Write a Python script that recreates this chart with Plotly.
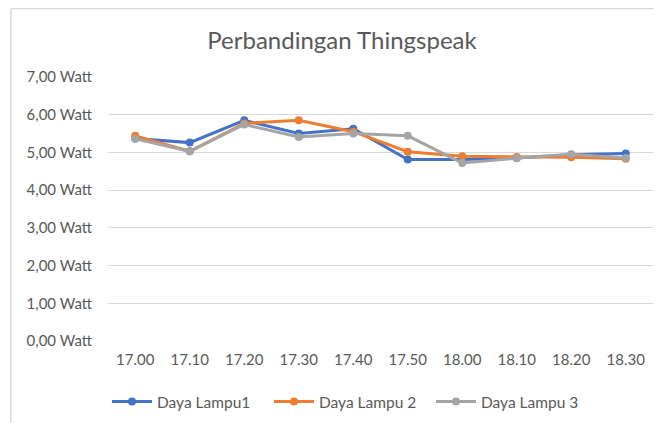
import plotly.graph_objects as go

categories = ["17.00", "17.10", "17.20", "17.30", "17.40", "17.50", "18.00", "18.10", "18.20", "18.30"]
lampu1 = [5.37, 5.26, 5.85, 5.50, 5.63, 4.81, 4.81, 4.85, 4.94, 4.97]
lampu2 = [5.44, 5.03, 5.77, 5.85, 5.55, 5.02, 4.90, 4.88, 4.87, 4.83]
lampu3 = [5.36, 5.03, 5.74, 5.41, 5.50, 5.44, 4.72, 4.85, 4.95, 4.85]
series_names = ["Daya Lampu1", "Daya Lampu 2", "Daya Lampu 3"]
colors = ["#4472C4", "#ED7D31", "#A5A5A5"]
ytick_vals = [0, 1, 2, 3, 4, 5, 6, 7]
ytick_text = ["0,00 Watt", "1,00 Watt", "2,00 Watt", "3,00 Watt", "4,00 Watt", "5,00 Watt", "6,00 Watt", "7,00 Watt"]

FONT = "Lato, 'Open Sans', sans-serif"

fig = go.Figure()
for name, vals, col in zip(series_names, [lampu1, lampu2, lampu3], colors):
    fig.add_trace(go.Scatter(
        x=categories, y=vals, name=name, mode="lines+markers",
        line=dict(color=col, width=3),
        marker=dict(color=col, size=8, symbol="circle"),
    ))

# page body has an 8px margin, so the figure is offset by 8px in the window
OFF = 8
W, H = 662 - OFF, 423 - OFF
L, R, T, B = 108 - OFF, 9, 77 - OFF, 82
pw = W - L - R
ph = H - T - B

def px_to_paper_x(px):
    return (px - OFF - L) / pw

def px_to_paper_y(py):
    return (H - B - (py - OFF)) / ph

fig.update_layout(
    width=W, height=H,
    margin=dict(l=L, r=R, t=T, b=B),
    paper_bgcolor="white", plot_bgcolor="white",
    font=dict(family=FONT, color="#595959", size=14),
    title=dict(text="Perbandingan Thingspeak", x=(342 - OFF) / W, xanchor="center",
               y=1 - (41 - OFF) / H, yanchor="middle",
               font=dict(size=24, color="#595959", family=FONT)),
    xaxis=dict(type="category", showgrid=False, showline=False, ticks="",
               tickfont=dict(size=15, color="#595959"), range=[-0.5, 9.5],
               ticklabelstandoff=8),
    yaxis=dict(range=[0, 7], tickvals=ytick_vals, ticktext=ytick_text,
               showgrid=True, gridcolor="#D9D9D9", gridwidth=1,
               zeroline=False, showline=False, ticks="",
               tickfont=dict(size=15, color="#595959"), ticklabelstandoff=15),
    legend=dict(orientation="h", x=(350 - OFF) / W, xanchor="center",
                y=1 - (402 - OFF) / H, yanchor="middle",
                yref="container", xref="container",
                font=dict(size=15.5, color="#595959"), itemwidth=40,
                entrywidth=107),
    showlegend=True,
    shapes=[
        dict(type="line", xref="paper", yref="paper",
             x0=px_to_paper_x(11), x1=px_to_paper_x(662), y0=px_to_paper_y(8.5), y1=px_to_paper_y(8.5),
             line=dict(color="#D9D9D9", width=1.5)),
        dict(type="line", xref="paper", yref="paper",
             x0=px_to_paper_x(11), x1=px_to_paper_x(11), y0=px_to_paper_y(8.5), y1=px_to_paper_y(423),
             line=dict(color="#D9D9D9", width=1.5)),
    ],
)

fig.write_html("out.html")
